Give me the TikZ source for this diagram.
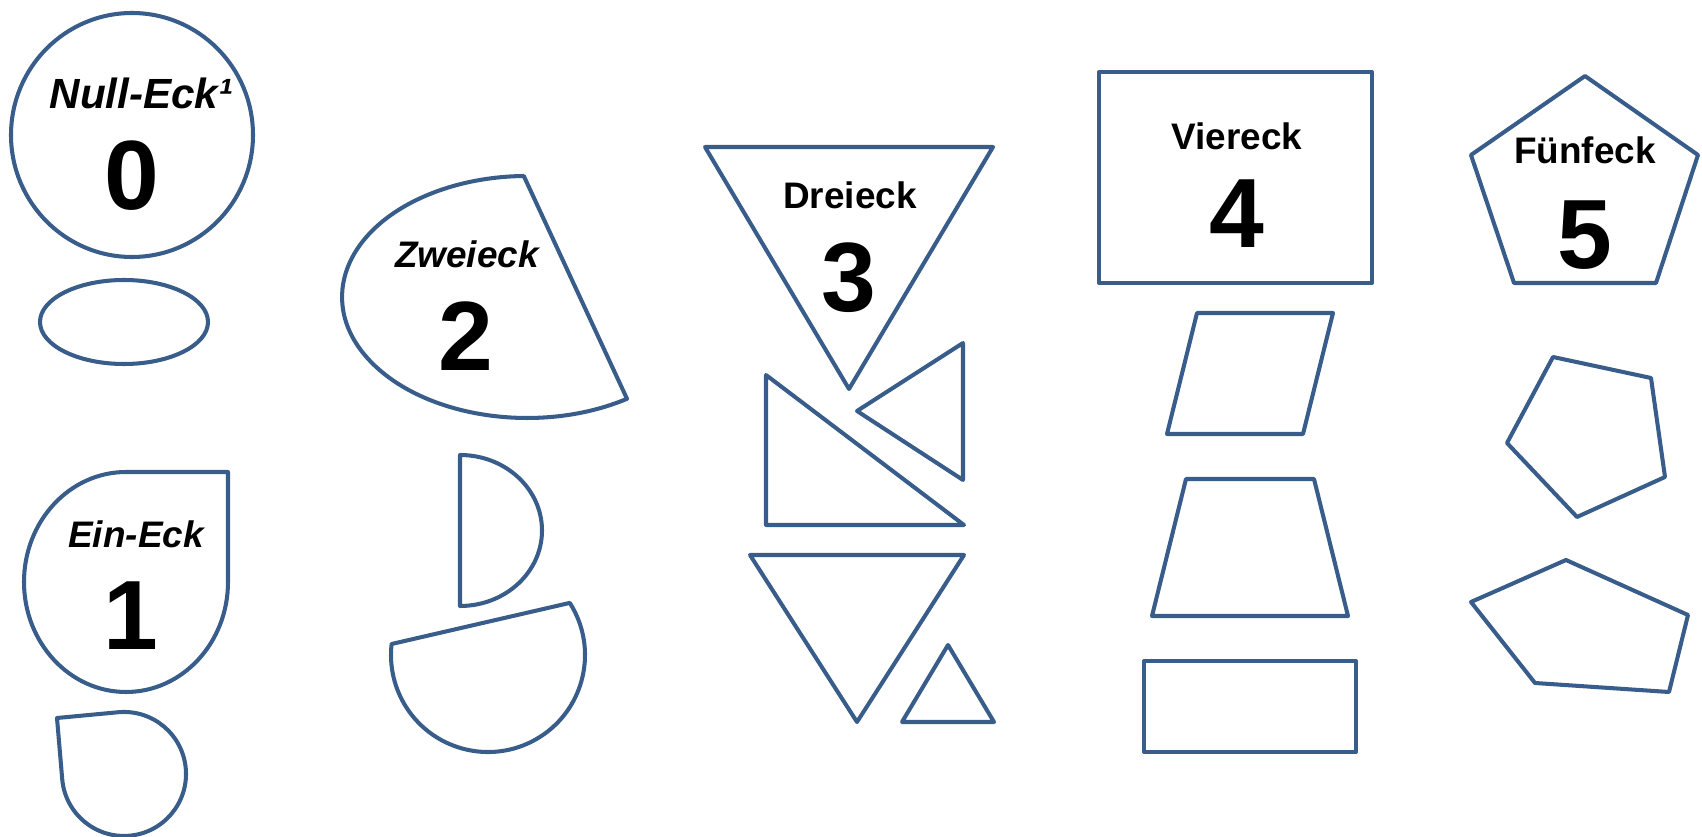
\documentclass[tikz,border=0pt]{standalone}
\usepackage{fontspec}
\setmainfont{Liberation Sans}
\definecolor{shapeblue}{HTML}{385D8A}
\begin{document}
\begin{tikzpicture}
[x=0.01cm,y=-0.01cm,
  shapedecorate/.style={draw=shapeblue,line width=1.15pt,line join=round},%
  labeldecorate/.style={anchor=base,inner sep=0pt,font=\fontsize{10.5}{12}\selectfont\bfseries},%
  numdecorate/.style={anchor=base,inner sep=0pt,font=\fontsize{28}{32}\selectfont\bfseries}]
\useasboundingbox (0,0) rectangle (1702,837);
%%% Null-Eck
% shapes
\draw[shapedecorate] (132,135) ellipse (121 and 122);
\draw[shapedecorate] (124,322) ellipse (84 and 42);
% labels
\node (n0) at (141,109) [labeldecorate,font=\fontsize{12}{14}\selectfont\bfseries] {\itshape Null-Eck¹};
\node (z0) at (132,210) [numdecorate] {0};
%
%%% Ein-Eck
% shapes
\draw[shapedecorate] (228,472) -- (126,472)
  arc[start angle=270,end angle=0,x radius=102,y radius=110] -- cycle;
\draw[shapedecorate] (57,718) -- (118.6,712.2)
  arc[start angle=265,end angle=535,radius=62] -- cycle;
% labels
\node (n1) at (136,548) [labeldecorate] {\itshape Ein-Eck};
\node (z1) at (131,650) [numdecorate] {1};
%
%%% Zweieck
% shapes
\draw[shapedecorate] (523.8,176) -- (627,398.8)
  arc[start angle=57.3,end angle=269,x radius=185,y radius=121] -- cycle;
\draw[shapedecorate] (460,606) -- (460,455)
  arc[start angle=270,end angle=450,x radius=82,y radius=75.5] -- cycle;
\draw[shapedecorate] (391.6,644) -- (569.8,602.9)
  arc[start angle=327.5,end angle=546.5,radius=97] -- cycle;
% labels
\node (n2) at (467,268) [labeldecorate] {\itshape Zweieck};
\node (z2) at (466,371) [numdecorate] {2};
%
%%% Dreieck
% shapes
\draw[shapedecorate] (705,147) -- (993,147) -- (849,389) -- cycle;
\draw[shapedecorate] (857,411) -- (963,343) -- (963,480) -- cycle;
\draw[shapedecorate] (766,375) -- (964,525) -- (766,525) -- cycle;
\draw[shapedecorate] (750,555) -- (964,555) -- (857,722) -- cycle;
\draw[shapedecorate] (948,645) -- (994,722) -- (902,722) -- cycle;
% labels
\node (n3) at (850,209) [labeldecorate] {Dreieck};
\node (z3) at (849,312) [numdecorate] {3};
%
%%% Viereck
% shapes
\draw[shapedecorate] (1099,72) rectangle (1372,283);
\draw[shapedecorate] (1197,313) -- (1333,313) -- (1303,434) -- (1167,434) -- cycle;
\draw[shapedecorate] (1186,479) -- (1314,479) -- (1348,616) -- (1152,616) -- cycle;
\draw[shapedecorate] (1144,661) rectangle (1356,752);
% labels
\node (n4) at (1237,150) [labeldecorate] {Viereck};
\node (z4) at (1237,248) [numdecorate] {4};
%
%%% Fuenfeck
% shapes
\draw[shapedecorate] (1585,76) -- (1698,155) -- (1656,283) -- (1514,283) -- (1471,155) -- cycle;
\draw[shapedecorate] (1553,357) -- (1651,378) -- (1665,477) -- (1577,517) -- (1507,443) -- cycle;
\draw[shapedecorate] (1566,560) -- (1688,615) -- (1669,692) -- (1535,683) -- (1471,602) -- cycle;
% labels
\node (n5) at (1585,164) [labeldecorate] {Fünfeck};
\node (z5) at (1585,269) [numdecorate] {5};
\end{tikzpicture}
\end{document}
